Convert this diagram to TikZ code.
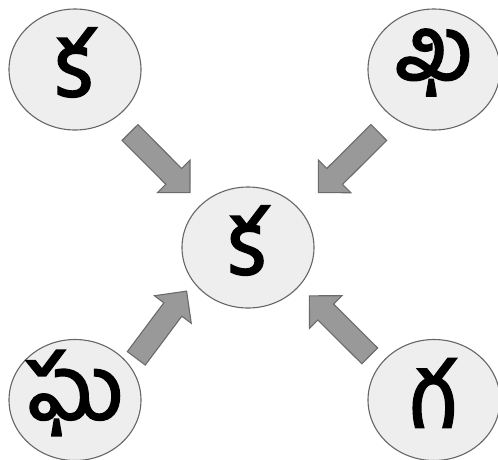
\documentclass[tikz,border=0pt]{standalone}
\usepackage{fontspec}
\newfontfamily\te[Script=Telugu,FakeBold=2.2]{Hind Guntur}
\usetikzlibrary{calc,shapes.geometric}
\definecolor{bub}{HTML}{EEEEEE}
\definecolor{bubline}{HTML}{666666}
\definecolor{arrfill}{HTML}{999999}
\definecolor{arrline}{HTML}{6B6B6B}
\tikzset{
  bubble/.style={ellipse, draw=bubline, fill=bub, line width=1.1pt,
    minimum width=132pt, minimum height=121pt, inner sep=0pt},
  glyph/.style={inner sep=0pt, yshift=7pt, font=\te\fontsize{90}{92}\selectfont},
  blockarrow/.style={draw=arrline, fill=arrfill, line width=1.1pt, line join=miter}
}
\newcommand\blockarr[2]{%
  \path[blockarrow] let \p1=(#1), \p2=(#2),
    \n1={atan2(\y2-\y1,\x2-\x1)}, \n2={veclen(\x2-\x1,\y2-\y1)} in
    [shift={(\p1)}, rotate=\n1]
    (0,-11.2) -- ({\n2-23},-11.2) -- ({\n2-23},-23) -- ({\n2},0)
    -- ({\n2-23},23) -- ({\n2-23},11.2) -- (0,11.2) -- cycle;}
\begin{document}
\begin{tikzpicture}[x=1pt,y=1pt]
\useasboundingbox (0,0) rectangle (498,-459);
\node[bubble] (tl) at (75,-69.5) {};
\node[bubble] (tr) at (434,-69.5) {};
\node[bubble] (c) at (248,-247.5) {};
\node[bubble] (bl) at (75,-400) {};
\node[bubble] (br) at (434,-400) {};
\node[glyph] (ltl) at (75,-69.5) {క};
\node[glyph] (ltr) at (434,-69.5) {ఖ};
\node[glyph] (lc) at (248,-247.5) {క};
\node[glyph] (lbl) at (75,-400) {ఘ};
\node[glyph] (lbr) at (434,-400) {గ};
\coordinate (t1) at (130,-132.5);
\coordinate (h1) at (190,-192.7);
\coordinate (t2) at (378.8,-132.5);
\coordinate (h2) at (318.3,-192.7);
\coordinate (t3) at (136.3,-358.3);
\coordinate (h3) at (186.7,-291);
\coordinate (t4) at (369.7,-355.8);
\coordinate (h4) at (309.3,-295.7);
\blockarr{t1}{h1}
\blockarr{t2}{h2}
\blockarr{t3}{h3}
\blockarr{t4}{h4}
\end{tikzpicture}
\end{document}
